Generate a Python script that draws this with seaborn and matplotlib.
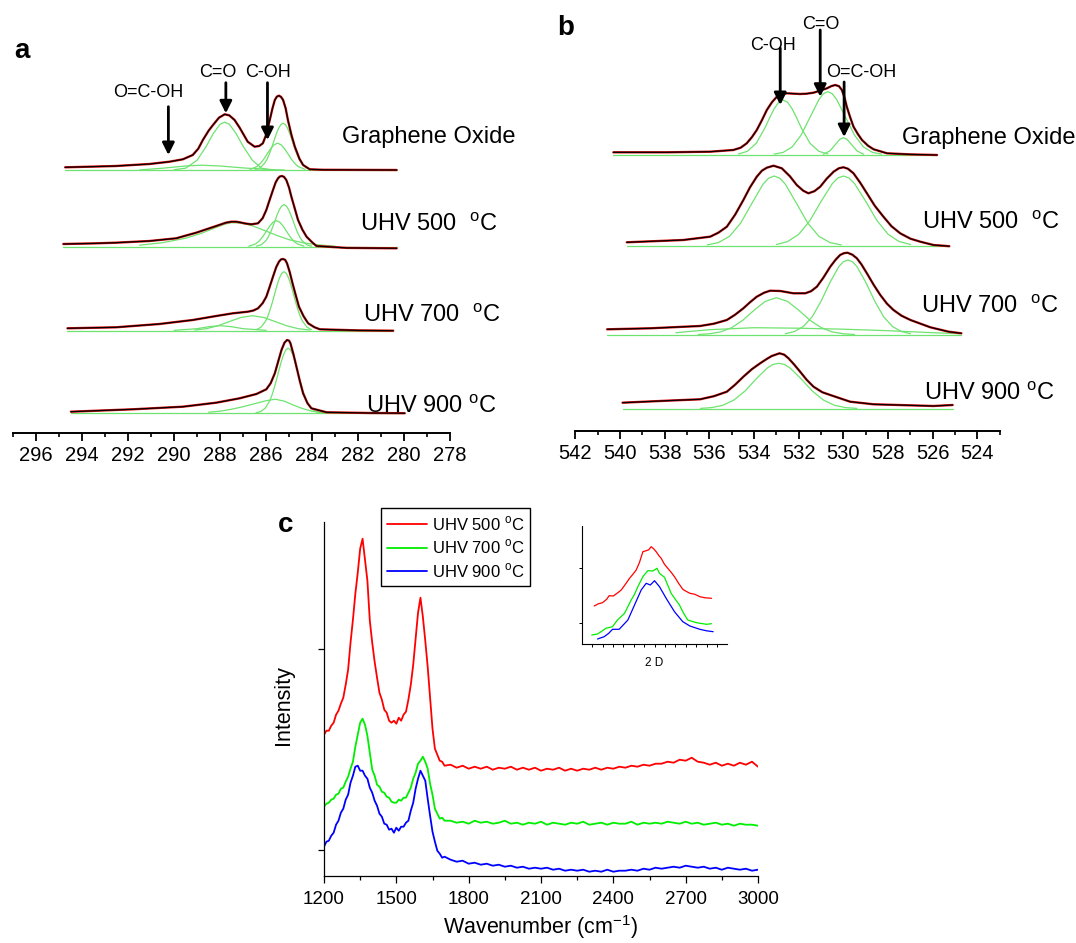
import numpy as np
import matplotlib
matplotlib.use("Agg")
import matplotlib.pyplot as plt
import seaborn as sns

# ---------------- panel a : C 1s XPS (binding energy, eV) ----------------
a_go_x = [294.74, 293.5, 292.53, 291.07, 290.20, 289.62, 289.19, 288.95, 288.75, 288.5,
          288.31, 288.05, 287.80, 287.6, 287.37, 287.15, 287.01, 286.8, 286.5, 286.3,
          286.14, 285.98, 285.84, 285.72, 285.62, 285.53, 285.44, 285.35, 285.26, 285.15,
          285.05, 284.9, 284.75, 284.55, 284.39, 284.10, 283.5, 282.0, 280.32]
a_go_y = [2.9, 3.6, 4.2, 6.2, 8.5, 10.9, 15.2, 21.5, 30.2, 39.5,
          45.2, 52.5, 55.9, 54.8, 50.2, 42.5, 36.9, 28.5, 23.5, 24.2,
          26.9, 36.5, 50.2, 62.0, 70.2, 73.6, 74.5, 73.3, 70.2, 62.0,
          50.2, 35.5, 23.5, 11.5, 5.2, 0.9, 0.4, 0.3, 0.2]
a_go_co_x = [290.0, 289.5, 289.0, 288.6, 288.3, 288.0, 287.8, 287.6, 287.3, 287.0, 286.6, 286.2, 285.8]
a_go_co_y = [0.5, 2.0, 10, 24, 36.5, 46, 48, 46, 36.5, 24, 10, 2.0, 0.5]
a_go_coh_x = [286.7, 286.4, 286.25, 286.1, 285.95, 285.8, 285.65, 285.5, 285.35, 285.2, 285.05, 284.9, 284.75, 284.6, 284.3]
a_go_coh_y = [0.8, 3.6, 6.7, 11, 16.4, 21.6, 25.5, 27, 25.5, 21.6, 16.4, 11, 6.7, 3.6, 0.8]
a_go_cc_x = [286.46, 286.26, 286.06, 285.96, 285.86, 285.76, 285.66, 285.56, 285.46, 285.36, 285.26,
             285.16, 285.06, 284.96, 284.86, 284.76, 284.66, 284.56, 284.46, 284.26, 284.06]
a_go_cc_y = [0.7, 2.4, 7, 10.9, 16.1, 22.3, 29.2, 36, 41.7, 45.6, 47,
             45.6, 41.7, 36, 29.2, 22.3, 16.1, 10.9, 7, 2.4, 0.7]
a_go_wide_x = [291.5, 290.5, 289.5, 288.8, 288.0, 287.0, 286.0, 285.2]
a_go_wide_y = [0.3, 2.0, 4.2, 5.0, 4.2, 2.3, 0.8, 0.2]

a_500_x = [294.82, 293.5, 292.53, 291.07, 289.91, 289.04, 288.17, 287.75, 287.51, 287.3,
           287.15, 286.9, 286.64, 286.35, 286.15, 285.99, 285.85, 285.70, 285.58, 285.48,
           285.40, 285.31, 285.22, 285.12, 285.0, 284.90, 284.75, 284.61, 284.42, 284.24,
           284.0, 283.81, 282.5, 280.32]
a_500_y = [2.7, 3.3, 4.0, 5.7, 8.4, 14.0, 20.7, 24.0, 25.0, 25.0,
           24.4, 23.2, 22.4, 23.4, 28.5, 36.7, 46.5, 56.7, 64.5, 68.4,
           70.2, 70.7, 69.8, 66.7, 59.0, 50.0, 38.0, 26.7, 17.0, 10.0,
           4.5, 0.7, -1.2, -1.6]
a_500_wide_x = [291.5, 290.5, 289.5, 288.8, 288.2, 287.8, 287.5, 287.1, 286.6, 286.1, 285.5, 285.0, 284.4, 283.8, 283.0]
a_500_wide_y = [1.5, 4.0, 8.5, 13.5, 19.0, 22.5, 24.0, 23.5, 21.0, 16.5, 11.0, 7.0, 4.0, 2.0, 0.5]
a_500_coh_x = [286.75, 286.45, 286.3, 286.15, 286.0, 285.85, 285.7, 285.55, 285.4, 285.25, 285.1, 284.95, 284.8, 284.65, 284.35]
a_500_coh_y = [0.5, 2.9, 5.7, 9.8, 15.0, 20.4, 24.5, 26.0, 24.5, 20.4, 15.0, 9.8, 5.7, 2.9, 0.5]
a_500_cc_x = [286.42, 286.22, 286.02, 285.92, 285.82, 285.72, 285.62, 285.52, 285.42, 285.32, 285.22,
              285.12, 285.02, 284.92, 284.82, 284.72, 284.62, 284.52, 284.42, 284.22, 284.02]
a_500_cc_y = [0.5, 1.8, 5.7, 9.1, 13.6, 19.2, 25.5, 31.7, 37.1, 40.7, 42.0,
              40.7, 37.1, 31.7, 25.5, 19.2, 13.6, 9.1, 5.7, 1.8, 0.5]

a_700_x = [294.64, 292.53, 290.64, 289.19, 288.17, 287.44, 286.79, 286.55, 286.35, 286.15,
           285.99, 285.85, 285.70, 285.56, 285.44, 285.35, 285.26, 285.17, 285.09, 284.97,
           284.85, 284.71, 284.57, 284.37, 284.17, 283.9, 283.66, 282.0, 280.47]
a_700_y = [2.4, 3.4, 6.7, 10.7, 14.7, 17.4, 19.0, 20.2, 22.4, 27.5,
           34.0, 43.5, 54.0, 63.5, 69.0, 71.3, 71.7, 70.8, 67.4, 58.5,
           47.4, 35.5, 24.0, 14.5, 7.4, 3.5, 1.4, 0.3, 0.0]
a_700_wide_x = [289.1, 288.6, 288.1, 287.6, 287.1, 286.6, 286.1, 285.6, 285.1, 284.6, 284.1]
a_700_wide_y = [0.7, 2.0, 4.9, 9.1, 13.2, 15.0, 13.2, 9.1, 4.9, 2.0, 0.7]
a_700_small_x = [290.0, 289.0, 288.5, 288.0, 287.5, 287.0, 286.0]
a_700_small_y = [0.4, 2.0, 4.0, 5.0, 4.0, 2.0, 0.4]
a_700_cc_x = [286.42, 286.22, 286.02, 285.92, 285.82, 285.72, 285.62, 285.52, 285.42, 285.32, 285.22,
              285.12, 285.02, 284.92, 284.82, 284.72, 284.62, 284.52, 284.42, 284.22, 284.02]
a_700_cc_y = [1.0, 3.5, 9.6, 14.7, 21.3, 29.0, 37.5, 45.7, 52.7, 57.4, 59.0,
              57.4, 52.7, 45.7, 37.5, 29.0, 21.3, 14.7, 9.6, 3.5, 1.0]

a_900_x = [294.49, 291.80, 289.62, 288.17, 287.15, 286.42, 285.99, 285.8, 285.62, 285.47,
           285.33, 285.2, 285.09, 285.0, 284.94, 284.81, 284.68, 284.53, 284.39, 284.2,
           284.03, 283.37, 281.5, 279.97]
a_900_y = [1.5, 3.9, 6.5, 10.5, 14.9, 19.2, 23.9, 30.0, 39.9, 52.0,
           63.2, 70.5, 73.2, 72.5, 69.9, 59.0, 46.5, 32.0, 19.9, 10.0,
           4.9, 0.9, 0.2, 0.0]
a_900_cc_x = [286.44, 286.24, 286.04, 285.84, 285.74, 285.64, 285.54, 285.44, 285.34, 285.24, 285.14, 285.04,
              284.94, 284.84, 284.74, 284.64, 284.54, 284.44, 284.34, 284.24, 284.04, 283.84, 283.64]
a_900_cc_y = [0.4, 1.6, 4.9, 12.4, 18.3, 25.7, 34.1, 43.0, 51.5, 58.6, 63.3, 65.0,
              63.3, 58.6, 51.5, 43.0, 34.1, 25.7, 18.3, 12.4, 4.9, 1.6, 0.4]
a_900_wide_x = [288.5, 288.0, 287.5, 287.0, 286.5, 286.0, 285.6, 285.2, 284.8, 284.4, 284.0, 283.5]
a_900_wide_y = [1.0, 2.0, 4.0, 6.5, 9.5, 12.5, 14.0, 12.0, 8.0, 4.5, 2.0, 0.5]

# ---------------- panel b : O 1s XPS ----------------
b_go_x = [540.30, 537.91, 535.97, 534.93, 534.6, 534.33, 534.1, 533.88, 533.65, 533.43,
          533.2, 532.98, 532.75, 532.53, 532.2, 531.94, 531.65, 531.34, 531.05, 530.74,
          530.55, 530.37, 530.2, 530.07, 529.95, 529.85, 529.7, 529.55, 529.35, 529.17,
          528.9, 528.65, 528.05, 527.0, 525.81]
b_go_y = [2.4, 2.4, 3.0, 4.7, 7.0, 11.4, 17.5, 24.7, 34.5, 44.7,
          52.5, 58.0, 60.5, 61.4, 61.0, 60.7, 61.0, 62.0, 64.0, 66.4,
          68.5, 69.7, 68.5, 64.7, 57.0, 48.0, 37.5, 28.0, 20.5, 14.7,
          9.0, 5.4, 1.4, 0.3, -0.3]
b_go_coh_x = [534.7, 534.3, 533.9, 533.5, 533.3, 533.1, 532.9, 532.7, 532.5, 532.3, 532.1, 531.9, 531.5, 531.1, 530.7]
b_go_coh_y = [0.7, 3.4, 11.5, 27.4, 37.1, 46.0, 52.4, 54.7, 52.4, 46.0, 37.1, 27.4, 11.5, 3.4, 0.7]
b_go_co_x = [533.1, 532.7, 532.3, 531.9, 531.5, 531.1, 530.9, 530.7, 530.5, 530.3, 529.9, 529.5, 529.1, 528.7, 528.3]
b_go_co_y = [0.6, 2.3, 7.7, 19.4, 37.2, 55.0, 61.0, 63.0, 61.0, 55.0, 37.2, 19.4, 7.7, 2.3, 0.6]
b_go_ocoh_x = [530.9, 530.6, 530.3, 530.15, 530.0, 529.85, 529.7, 529.4, 529.1]
b_go_ocoh_y = [0.4, 3.9, 11.8, 15.6, 17.0, 15.6, 11.8, 3.9, 0.4]

b_500_x = [539.70, 537.17, 535.97, 535.6, 535.22, 534.85, 534.48, 534.18, 533.88, 533.65,
           533.43, 533.13, 532.76, 532.4, 532.09, 531.8, 531.57, 531.3, 531.04, 530.75,
           530.44, 530.2, 530.0, 529.8, 529.55, 529.25, 528.95, 528.6, 528.21, 527.85,
           527.46, 527.0, 526.56, 525.97, 525.26]
b_500_y = [3.4, 5.7, 9.0, 13.0, 19.0, 31.0, 45.7, 58.5, 69.0, 75.0,
           78.0, 80.0, 77.4, 69.5, 60.7, 55.0, 52.4, 54.5, 59.0, 67.0,
           74.0, 77.5, 78.4, 77.0, 72.4, 63.0, 52.4, 40.0, 29.0, 19.5,
           12.4, 7.0, 4.0, 0.7, -0.5]
b_500_coh_x = [536.1, 535.6, 535.1, 534.6, 534.1, 533.6, 533.35, 533.1, 532.85, 532.6, 532.1, 531.6, 531.1, 530.6, 530.1]
b_500_coh_y = [0.8, 3.1, 9.4, 22.7, 42.3, 61.5, 67.5, 69.7, 67.5, 61.5, 42.3, 22.7, 9.4, 3.1, 0.8]
b_500_co_x = [533.0, 532.5, 532.0, 531.5, 531.0, 530.5, 530.25, 530.0, 529.75, 529.5, 529.0, 528.5, 528.0, 527.5, 527.0]
b_500_co_y = [1.2, 4.1, 11.4, 25.1, 44.3, 62.0, 67.7, 69.7, 67.7, 62.0, 44.3, 25.1, 11.4, 4.1, 1.2]

b_700_x = [540.58, 538.66, 536.42, 535.8, 535.22, 534.85, 534.48, 534.18, 533.88, 533.55,
           533.28, 532.83, 532.24, 531.71, 531.45, 531.19, 530.9, 530.59, 530.35, 530.15,
           529.98, 529.82, 529.6, 529.40, 529.2, 528.95, 528.65, 528.35, 528.05, 527.76,
           527.4, 527.0, 526.11, 525.29, 524.72]
b_700_y = [5.4, 6.4, 8.7, 11.0, 14.7, 20.0, 26.4, 32.5, 38.0, 42.0,
           44.0, 43.7, 41.4, 41.4, 43.5, 48.0, 57.0, 68.0, 75.0, 79.7,
           81.5, 82.0, 80.0, 76.4, 70.5, 61.4, 50.0, 39.7, 31.0, 24.7,
           19.0, 14.7, 7.4, 3.0, 1.4]
b_700_coh_x = [536.5, 536.0, 535.5, 535.0, 534.5, 534.0, 533.5, 533.0, 532.5, 532.0, 531.5, 531.0, 530.5, 530.0, 529.5]
b_700_coh_y = [0.2, 0.9, 2.8, 7.1, 14.5, 24.5, 33.3, 37.0, 33.3, 24.5, 14.5, 7.1, 2.8, 0.9, 0.2]
b_700_co_x = [532.6, 532.2, 531.8, 531.4, 531.0, 530.6, 530.2, 530.0, 529.8, 529.6, 529.4, 529.0, 528.6, 528.2, 527.8, 527.4, 527.0]
b_700_co_y = [1.0, 3.1, 8.1, 17.9, 33.6, 52.4, 68.3, 73.0, 74.7, 73.0, 68.3, 52.4, 33.6, 17.9, 8.1, 3.1, 1.0]
b_700_wide_x = [537.5, 536.0, 534.0, 532.0, 530.0, 528.0, 526.0, 524.8]
b_700_wide_y = [2.0, 5.0, 7.0, 6.5, 5.5, 4.0, 2.0, 1.0]

b_900_x = [539.89, 537.91, 536.42, 535.8, 535.22, 534.85, 534.48, 534.1, 533.73, 533.45,
           533.21, 532.86, 532.65, 532.46, 532.2, 531.94, 531.65, 531.34, 530.95, 530.59,
           529.70, 528.65, 525.97, 525.11]
b_900_y = [6.0, 8.0, 9.4, 12.5, 17.0, 24.0, 32.0, 39.5, 45.4, 49.5,
           52.7, 55.4, 54.0, 50.4, 44.0, 37.0, 29.0, 22.0, 16.5, 13.7,
           7.0, 4.4, 2.7, 3.7]
b_900_coh_x = [536.4, 535.9, 535.4, 534.9, 534.4, 533.9, 533.4, 533.15, 532.9, 532.65, 532.4, 531.9, 531.4, 530.9, 530.4, 529.9, 529.4]
b_900_coh_y = [0.3, 1.1, 3.4, 8.7, 17.8, 30.0, 40.9, 44.3, 45.4, 44.3, 40.9, 30.0, 17.8, 8.7, 3.4, 1.1, 0.3]

xps_labels = ["Graphene Oxide", "UHV 500  $^{\\mathregular{o}}$C",
              "UHV 700  $^{\\mathregular{o}}$C", "UHV 900 $^{\\mathregular{o}}$C"]
a_peak_names = ["O=C-OH", "C=O", "C-OH"]
a_peak_ev = [290.25, 287.75, 285.94]
b_peak_names = ["C-OH", "C=O", "O=C-OH"]
b_peak_ev = [532.83, 531.04, 529.97]

# ---------------- panel c : Raman ----------------
raman_w = np.r_[np.arange(1200, 1701, 10), np.arange(1725, 3001, 25)]
red_500 = [141, 145, 145, 150, 153, 161, 165, 172, 178, 191,
           206, 233, 256, 282, 303, 327, 337, 316, 295, 255,
           233, 214, 198, 183, 176, 166, 163, 155, 153, 155,
           152, 158, 155, 161, 164, 176, 191, 211, 237, 263,
           278, 259, 235, 209, 178, 147, 127, 121, 115, 114, 110,
           111, 108, 110, 107, 109, 107, 109, 106, 108, 107,
           109, 106, 108, 106, 108, 105, 107, 106, 108, 105,
           107, 105, 107, 106, 108, 106, 108, 107, 109, 108,
           110, 109, 111, 110, 112, 112, 114, 113, 116, 115,
           118, 114, 113, 111, 113, 110, 112, 110, 113, 111, 114, 109]
green_700 = [69, 72, 73, 76, 77, 81, 82, 87, 88, 94,
             99, 107, 114, 129, 141, 153, 157, 151, 140, 123,
             106, 100, 91, 89, 84, 83, 79, 78, 74, 73,
             73, 76, 75, 78, 78, 83, 88, 97, 103, 112,
             115, 119, 114, 107, 92, 81, 67, 62, 57, 58, 55,
             55, 53, 54, 52, 55, 53, 54, 52, 53, 55,
             52, 53, 51, 53, 52, 54, 51, 53, 52, 51,
             53, 52, 54, 51, 52, 53, 51, 53, 52, 52,
             54, 51, 53, 52, 53, 52, 54, 53, 52, 54,
             52, 53, 51, 52, 53, 51, 52, 50, 52, 51, 51, 50]
blue_900 = [29, 34, 35, 40, 43, 51, 55, 63, 67, 76,
            81, 93, 100, 109, 110, 105, 105, 100, 97, 88,
            83, 75, 70, 62, 59, 52, 51, 46, 47, 43,
            48, 45, 49, 49, 53, 55, 65, 73, 87, 97,
            105, 100, 95, 77, 60, 44, 34, 25, 22, 18, 19,
            16, 14, 15, 12, 13, 11, 12, 10, 11, 9,
            10, 8, 9, 7, 8, 7, 8, 6, 7, 5,
            6, 5, 6, 4, 5, 4, 6, 4, 5, 5,
            6, 5, 7, 6, 8, 7, 8, 9, 8, 10,
            9, 8, 9, 7, 8, 6, 8, 7, 6, 7, 5, 6]
raman_labels = ["UHV 500 $^{\\mathregular{o}}$C", "UHV 700 $^{\\mathregular{o}}$C", "UHV 900 $^{\\mathregular{o}}$C"]
raman_colors = ["#ff0000", "#00ee00", "#0000ff"]

# inset: 2D band
in_red_x = [2555, 2565, 2575, 2585, 2591, 2601, 2610, 2620, 2630, 2640, 2648, 2656, 2664, 2672, 2680, 2686, 2692,
            2698, 2704, 2710, 2716, 2724, 2732, 2740, 2748, 2758, 2768, 2776, 2785, 2797, 2809, 2822, 2837]
in_red_y = [38.3, 40.5, 41.6, 45.0, 48.6, 48.3, 51.0, 54.3, 60.0, 66.0, 70.0, 74.3, 82.0, 92.6, 93.6, 94.5, 97.6,
            95.5, 92.6, 89.0, 86.0, 80.0, 76.0, 72.0, 67.6, 61.0, 55.0, 53.0, 51.0, 50.0, 47.6, 46.5, 46.0]
in_green_x = [2549, 2563, 2573, 2583, 2599, 2611, 2628, 2644, 2652, 2660, 2672, 2684, 2696, 2706, 2712, 2724,
              2732, 2740, 2750, 2760, 2770, 2780, 2801, 2825, 2837]
in_green_y = [9.3, 10.3, 13, 16, 17.6, 24.3, 31, 44.3, 50, 57.6, 67.6, 73.6, 73.3, 76, 71, 67,
              59, 51, 45, 39.3, 31, 24.3, 21.6, 20, 20.6]
in_blue_x = [2563, 2579, 2590, 2599, 2615, 2636, 2652, 2668, 2680, 2690, 2700, 2712, 2728, 2748, 2768, 2785, 2809, 2825, 2841]
in_blue_y = [5.3, 7.6, 11, 15, 15, 24.3, 39.3, 54.3, 61, 59.3, 63.6, 57.6, 46, 32.6, 22.6, 18.3, 15, 13.5, 12.6]

# ---------------- figure ----------------
sns.set_theme(style="ticks")
plt.rcParams['font.family'] = ['Liberation Sans', 'DejaVu Sans']
plt.rcParams['mathtext.fontset'] = 'custom'
plt.rcParams['mathtext.rm'] = 'Liberation Sans'
plt.rcParams['axes.unicode_minus'] = False
for key in ('text.color', 'axes.labelcolor', 'xtick.color', 'ytick.color', 'axes.edgecolor'):
    plt.rcParams[key] = 'black'

W, H = 1076, 943
fig = plt.figure(figsize=(W / 100, H / 100), dpi=100, facecolor='white')


def px_axes(x0, y_top, x1, y_bot):
    return fig.add_axes([x0 / W, 1 - y_bot / H, (x1 - x0) / W, (y_bot - y_top) / H])


def ftext(x, y, s, **kw):
    fig.text(x / W, 1 - y / H, s, color='black', **kw)


def draw(ax, x, y, off=0.0, **kw):
    sns.lineplot(x=x, y=np.asarray(y, float) + off, ax=ax, sort=False, estimator=None, **kw)


GREEN = '#6fe36f'


def spectrum(ax, env_x, env_y, comps, off):
    draw(ax, [env_x[0], env_x[-1]], [0, 0], off, color=GREEN, lw=0.9)
    for cx, cy in comps:
        draw(ax, cx, cy, off, color=GREEN, lw=0.9)
    draw(ax, env_x, env_y, off, color='#e01010', lw=1.7)
    draw(ax, env_x, env_y, off, color='black', lw=0.9)


ax_a = px_axes(13.2, 0, 450, 432.7)
ax_b = px_axes(575.4, 0, 999.8, 430.7)

spectrum(ax_a, a_go_x, a_go_y, [(a_go_wide_x, a_go_wide_y), (a_go_co_x, a_go_co_y),
                                (a_go_coh_x, a_go_coh_y), (a_go_cc_x, a_go_cc_y)], 262.5)
spectrum(ax_a, a_500_x, a_500_y, [(a_500_wide_x, a_500_wide_y), (a_500_coh_x, a_500_coh_y),
                                  (a_500_cc_x, a_500_cc_y)], 186)
spectrum(ax_a, a_700_x, a_700_y, [(a_700_wide_x, a_700_wide_y), (a_700_small_x, a_700_small_y),
                                  (a_700_cc_x, a_700_cc_y)], 102)
spectrum(ax_a, a_900_x, a_900_y, [(a_900_wide_x, a_900_wide_y), (a_900_cc_x, a_900_cc_y)], 19.5)

spectrum(ax_b, b_go_x, b_go_y, [(b_go_coh_x, b_go_coh_y), (b_go_co_x, b_go_co_y),
                                (b_go_ocoh_x, b_go_ocoh_y)], 276)
spectrum(ax_b, b_500_x, b_500_y, [(b_500_coh_x, b_500_coh_y), (b_500_co_x, b_500_co_y)], 185)
spectrum(ax_b, b_700_x, b_700_y, [(b_700_wide_x, b_700_wide_y), (b_700_coh_x, b_700_coh_y),
                                  (b_700_co_x, b_700_co_y)], 96)
spectrum(ax_b, b_900_x, b_900_y, [(b_900_coh_x, b_900_coh_y)], 22)

for ax, lim, maj, mnr, top in [(ax_a, (297, 278), np.arange(296, 277, -2), np.arange(297, 278, -2), 432.7),
                               (ax_b, (542, 523), np.arange(542, 523, -2), np.arange(541, 522, -2), 430.7)]:
    ax.set_xlim(*lim)
    ax.set_ylim(0, top)
    ax.set_facecolor('none')
    sns.despine(ax=ax, left=True)
    ax.spines['bottom'].set_linewidth(1.4)
    ax.spines['bottom'].set_color('black')
    ax.set_yticks([])
    ax.set_xticks(maj)
    ax.set_xticks(mnr, minor=True)
    ax.set_xticklabels([str(v) for v in maj])
    ax.tick_params(axis='x', which='major', direction='out', length=5.5, width=1.3,
                   color='black', labelsize=14.5, labelcolor='black', pad=4)
    ax.tick_params(axis='x', which='minor', direction='out', length=3, width=1.2, color='black')
    ax.set_xlabel('')
    ax.set_ylabel('')

# peak arrows
arrow_kw = dict(arrowstyle='-|>', color='black', lw=2.0, shrinkA=0, shrinkB=0, mutation_scale=18)
for ev, tip, top in zip(a_peak_ev, [277.7, 319.4, 292.7], [326, 350, 350]):
    ax_a.annotate('', xy=(ev, tip), xytext=(ev, top), arrowprops=arrow_kw)
for ev, tip, top in zip(b_peak_ev, [325.7, 334, 293.7], [382.7, 400.7, 348.7]):
    ax_b.annotate('', xy=(ev, tip), xytext=(ev, top), arrowprops=arrow_kw)

for name, (x, y) in zip(a_peak_names, [(148.3, 97.3), (217.5, 77.3), (267.5, 77.3)]):
    ftext(x, y, name, ha='center', va='baseline', fontsize=13)
for name, (x, y) in zip(b_peak_names, [(772.7, 50), (821, 29.3), (861.3, 77.3)]):
    ftext(x, y, name, ha='center', va='baseline', fontsize=13)

for lab, (x, y) in zip(xps_labels, [(342, 143.5), (360, 231), (363, 321.7), (366, 413)]):
    ftext(x, y, lab, ha='left', va='baseline', fontsize=17)
for lab, (x, y) in zip(xps_labels, [(902, 144), (921.5, 229.3), (921, 313.3), (924, 400)]):
    ftext(x, y, lab, ha='left', va='baseline', fontsize=17)

ftext(13.8, 58.3, 'a', fontsize=20, fontweight='bold', va='baseline')
ftext(557, 35, 'b', fontsize=20, fontweight='bold', va='baseline')
ftext(278.3, 531.7, 'c', fontsize=20, fontweight='bold', va='baseline')

# Raman main panel
ax_c = px_axes(324, 521.7, 758, 875.7)
for ys, lab, col in zip([red_500, green_700, blue_900], raman_labels, raman_colors):
    draw(ax_c, raman_w, ys, color=col, lw=1.3, label=lab)
ax_c.set_xlim(1200, 3000)
ax_c.set_ylim(0, 354)
sns.despine(ax=ax_c)
for s in ('left', 'bottom'):
    ax_c.spines[s].set_linewidth(0.9)
    ax_c.spines[s].set_color('black')
ax_c.set_xticks(np.arange(1200, 3001, 300))
ax_c.set_xticks(np.arange(1350, 3000, 300), minor=True)
ax_c.set_yticks([25.7, 226.7])
ax_c.set_yticklabels([])
ax_c.tick_params(axis='x', which='major', direction='out', length=5, width=0.9, color='black',
                 labelsize=13.5, labelcolor='black', pad=6)
ax_c.tick_params(axis='x', which='minor', direction='out', length=3, width=0.9, color='black')
ax_c.tick_params(axis='y', which='major', direction='out', length=4, width=0.9, color='black')
ax_c.set_xlabel('')
ax_c.set_ylabel('')
ftext(541, 934, 'Wavenumber (cm$^{\\mathregular{-1}}$)', ha='center', va='baseline', fontsize=15.5)
ftext(283.3, 705, 'Intensity', ha='center', va='center', rotation=90, fontsize=15.5)

leg = ax_c.legend(loc='upper left', bbox_to_anchor=(381 / W, 1 - 508.3 / H), bbox_transform=fig.transFigure,
                  frameon=True, fancybox=False, edgecolor='black', framealpha=1, fontsize=12,
                  handlelength=2.4, handletextpad=0.3, labelspacing=0.3, borderpad=0.35, borderaxespad=0)
leg.get_frame().set_linewidth(1.0)
for text in leg.get_texts():
    text.set_color('black')
for line in leg.get_lines():
    line.set_linewidth(1.3)

# inset
ax_in = px_axes(581.7, 526, 727.3, 644.3)
for xs, ys, col in zip([in_red_x, in_green_x, in_blue_x], [in_red_y, in_green_y, in_blue_y], raman_colors):
    draw(ax_in, xs, ys, color=col, lw=0.9)
ax_in.set_xlim(2525, 2875)
ax_in.set_ylim(0, 118.3)
sns.despine(ax=ax_in)
for s in ('left', 'bottom'):
    ax_in.spines[s].set_linewidth(0.8)
    ax_in.spines[s].set_color('black')
ax_in.set_xticks(np.arange(2550, 2851, 25))
ax_in.set_yticks([21.6, 76])
ax_in.set_xticklabels([])
ax_in.set_yticklabels([])
ax_in.tick_params(axis='both', which='major', direction='out', length=2.5, width=0.7, color='black')
ax_in.set_ylabel('')
ax_in.set_xlabel('2 D', fontsize=8.5, labelpad=3, color='black')

fig.savefig('out.png', dpi=100, facecolor='white')
